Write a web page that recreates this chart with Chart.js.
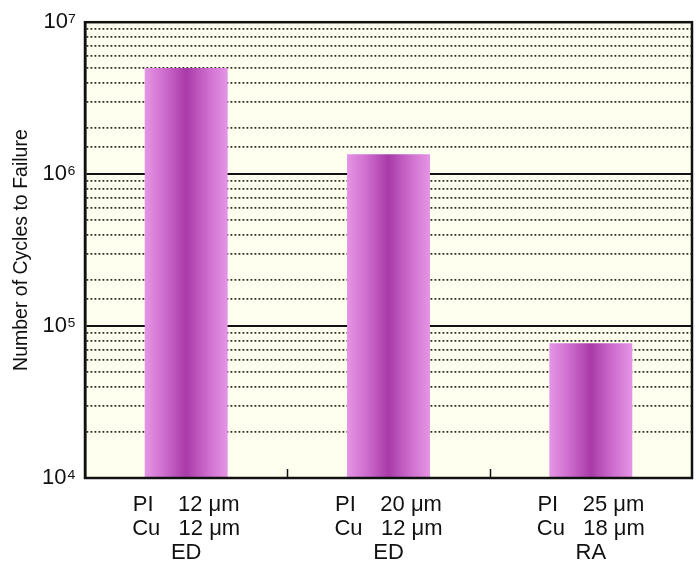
<!DOCTYPE html>
<html>
<head>
<meta charset="utf-8">
<script src="https://cdn.jsdelivr.net/npm/chart.js@4"></script>
<style>
  html, body { margin: 0; padding: 0; background: #ffffff; }
  #wrap { width: 699px; height: 570px; }
</style>
</head>
<body>
<div id="wrap"><canvas id="cycles-chart" width="699" height="570"></canvas></div>
<script>
// Data
const categories = [
  ["PI    12 μm", "Cu   12 μm", "ED"],
  ["PI    20 μm", "Cu   12 μm", "ED"],
  ["PI    25 μm", "Cu   18 μm", "RA"],
];
const cyclesToFailure = [5.0e6, 1.35e6, 7.7e4];
const yMin = 1e4;
const yMax = 1e7;
const majorTicks = { 10000: "10⁴", 100000: "10⁵", 1000000: "10⁶", 10000000: "10⁷" };

const isMajor = (v) => majorTicks[v] !== undefined;

// magenta gradient across each bar, lighter at the edges
const barFill = (ctx) => {
  const chart = ctx.chart;
  const xScale = chart.scales.x;
  if (!xScale || !chart.chartArea) return "#c060c0";
  const cx = xScale.getPixelForValue(ctx.dataIndex);
  const half = (chart.chartArea.width / categories.length) * 0.41 / 2;
  const g = chart.ctx.createLinearGradient(cx - half, 0, cx + half, 0);
  g.addColorStop(0, "#e595e5");
  g.addColorStop(0.22, "#d070d0");
  g.addColorStop(0.5, "#a93aa8");
  g.addColorStop(0.78, "#d070d0");
  g.addColorStop(1, "#e595e5");
  return g;
};

// plot background, frame and the small inner ticks between groups
const frame = {
  id: "frame",
  beforeDraw(chart) {
    const { ctx, chartArea: a } = chart;
    ctx.save();
    ctx.fillStyle = "#fffff0";
    ctx.fillRect(a.left, a.top, a.width, a.height);
    ctx.restore();
  },
  afterDraw(chart) {
    const { ctx, chartArea: a } = chart;
    const xScale = chart.scales.x;
    ctx.save();
    ctx.strokeStyle = "#111";
    ctx.lineWidth = 2.5;
    ctx.strokeRect(a.left, a.top, a.width, a.height);
    ctx.lineWidth = 1.5;
    for (let i = 0; i < categories.length - 1; i++) {
      const x = Math.round(xScale.getPixelForValue(i + 0.5)) + 0.5;
      ctx.beginPath();
      ctx.moveTo(x, a.bottom);
      ctx.lineTo(x, a.bottom - 9);
      ctx.stroke();
    }
    ctx.restore();
  },
};

const config = {
  type: "bar",
  data: {
    labels: categories,
    datasets: [
      {
        label: "Number of Cycles to Failure",
        data: cyclesToFailure,
        backgroundColor: barFill,
        borderWidth: 0,
        barPercentage: 0.41,
        categoryPercentage: 1,
      },
    ],
  },
  options: {
    responsive: false,
    animation: false,
    layout: { padding: { top: 22, right: 7, left: 0, bottom: 0 } },
    plugins: {
      legend: { display: false },
      tooltip: { enabled: false },
    },
    scales: {
      x: {
        grid: { display: false },
        border: { display: false },
        ticks: {
          color: "#111",
          padding: 7,
          maxRotation: 0,
          font: { family: "'Liberation Sans', Arial, sans-serif", size: 22, lineHeight: 1.09 },
        },
        afterFit(scale) {
          scale.height = 92;
        },
      },
      y: {
        type: "logarithmic",
        min: yMin,
        max: yMax,
        grid: {
          drawTicks: false,
          color: (c) => (isMajor(c.tick && c.tick.value) ? "#111" : "#2a2a20"),
          lineWidth: (c) => (isMajor(c.tick && c.tick.value) ? 2 : 1.8),
        },
        border: {
          display: true,
          color: "#111",
          width: 2.5,
          dash: (c) => (isMajor(c.tick && c.tick.value) ? [] : [1.8, 2.2]),
        },
        ticks: {
          color: "#111",
          padding: 9,
          autoSkip: false,
          font: { family: "'Liberation Sans', Arial, sans-serif", size: 22 },
          callback: (v) => majorTicks[v] || "",
        },
        title: {
          display: true,
          text: "Number of Cycles to Failure",
          color: "#111",
          padding: { top: 10, bottom: 0 },
          font: { family: "'Liberation Sans', Arial, sans-serif", size: 19.5 },
        },
        afterFit(scale) {
          scale.width = 85;
        },
      },
    },
  },
  plugins: [frame],
};

const cyclesChart = new Chart(document.getElementById("cycles-chart"), config);
</script>
</body>
</html>
